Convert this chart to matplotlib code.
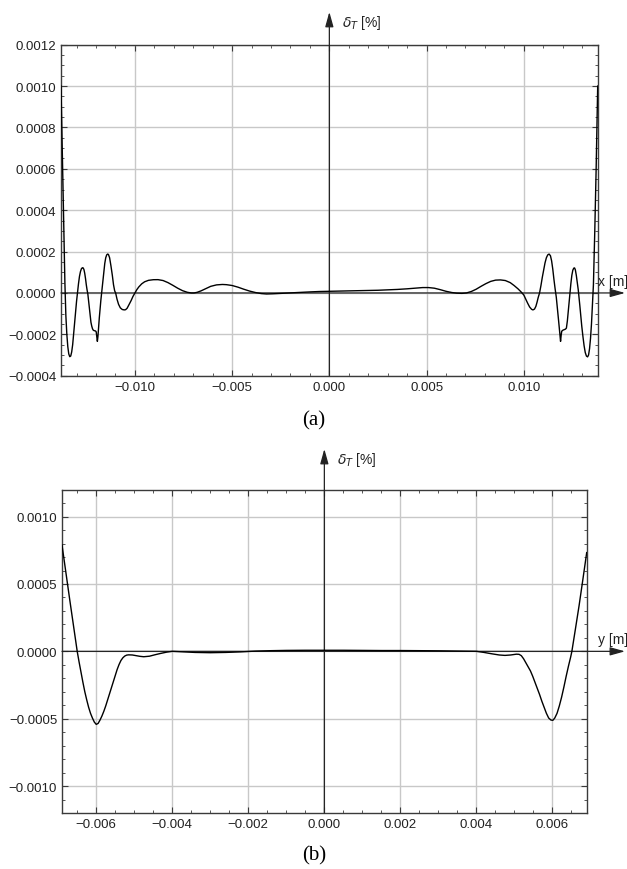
import matplotlib
matplotlib.use("Agg")
import matplotlib.pyplot as plt
import matplotlib.transforms as mtransforms
from matplotlib.ticker import MultipleLocator, FuncFormatter

plt.rcParams['font.family'] = ['Liberation Sans', 'DejaVu Sans']
plt.rcParams['mathtext.fontset'] = 'dejavusans'

# ---- data (a): x in mm, delta_T in 1e-4 % ----
xa_mm = [-13.80, -13.75, -13.70, -13.65, -13.60, -13.55, -13.50, -13.45, -13.40, -13.35,
         -13.30, -13.25, -13.20, -13.15, -13.10, -13.05, -13.00, -12.95, -12.90, -12.85,
         -12.80, -12.75, -12.70, -12.66, -12.62, -12.58, -12.54, -12.50, -12.46, -12.42,
         -12.38, -12.34, -12.30, -12.26, -12.22, -12.18, -12.14, -12.10, -12.06, -12.02,
         -11.99, -11.96, -11.93, -11.90, -11.87, -11.83, -11.79, -11.75, -11.70, -11.65,
         -11.60, -11.55, -11.50, -11.45, -11.40, -11.36, -11.30, -11.23, -11.16, -11.10,
         -11.04, -10.99, -10.92, -10.84, -10.75, -10.65, -10.55, -10.48, -10.40, -10.32,
         -10.25, -10.19, -10.10, -10.00, -9.90, -9.80, -9.65, -9.50, -9.30, -9.05,
         -8.81, -8.55, -8.30, -8.05, -7.80, -7.55, -7.30, -7.10, -6.96, -6.80,
         -6.60, -6.35, -6.10, -5.80, -5.50, -5.29, -5.00, -4.70, -4.40, -4.10,
         -3.80, -3.50, -3.23, -2.90, -2.50, -2.00, -1.50, -1.00, -0.50, 0.00,
         0.50, 1.00, 1.50, 2.00, 2.50, 3.00, 3.50, 4.00, 4.40, 4.80,
         5.10, 5.40, 5.70, 6.00, 6.30, 6.55, 6.82, 7.05, 7.30, 7.55,
         7.80, 8.05, 8.30, 8.55, 8.80, 9.05, 9.30, 9.50, 9.70, 9.85,
         10.00, 10.10, 10.20, 10.30, 10.40, 10.47, 10.55, 10.62, 10.68, 10.74,
         10.81, 10.88, 10.95, 11.02, 11.09, 11.16, 11.23, 11.30, 11.37, 11.43,
         11.49, 11.55, 11.61, 11.67, 11.73, 11.79, 11.85, 11.89, 11.92, 11.95,
         12.01, 12.08, 12.14, 12.19, 12.24, 12.29, 12.33, 12.37, 12.42, 12.47,
         12.52, 12.57, 12.61, 12.65, 12.70, 12.75, 12.80, 12.84, 12.88, 12.93,
         12.98, 13.04, 13.10, 13.16, 13.22, 13.28, 13.33, 13.38, 13.43, 13.48,
         13.53, 13.58, 13.65, 13.72, 13.80]
ya_e4 = [10.0, 7.6, 5.2, 2.8, 0.5, -1.1, -2.0, -2.6, -2.95, -3.08,
         -3.05, -2.85, -2.5, -2.0, -1.45, -0.9, -0.4, 0.05, 0.45, 0.8,
         1.03, 1.17, 1.22, 1.21, 1.13, 0.95, 0.7, 0.4, 0.15, -0.05,
         -0.4, -0.8, -1.15, -1.42, -1.6, -1.73, -1.80, -1.82, -1.83, -1.84,
         -1.88, -2.1, -2.34, -2.1, -1.7, -1.2, -0.75, -0.35, 0.1, 0.6,
         1.05, 1.42, 1.7, 1.84, 1.88, 1.86, 1.7, 1.3, 0.85, 0.4,
         0.1, 0.0, -0.3, -0.55, -0.72, -0.80, -0.82, -0.81, -0.74, -0.6,
         -0.47, -0.36, -0.17, 0.0, 0.16, 0.29, 0.44, 0.54, 0.61, 0.64,
         0.643, 0.6, 0.5, 0.37, 0.23, 0.11, 0.03, 0.0, 0.0, 0.03,
         0.1, 0.21, 0.32, 0.39, 0.41, 0.40, 0.36, 0.28, 0.18, 0.09,
         0.02, -0.03, -0.05, -0.04, -0.02, 0.01, 0.03, 0.05, 0.07, 0.08,
         0.09, 0.10, 0.11, 0.12, 0.13, 0.15, 0.17, 0.20, 0.23, 0.26,
         0.26, 0.23, 0.16, 0.08, 0.02, -0.01, -0.02, 0.0, 0.07, 0.18,
         0.32, 0.45, 0.56, 0.62, 0.63, 0.6, 0.5, 0.36, 0.2, 0.06,
         -0.1, -0.3, -0.5, -0.68, -0.79, -0.82, -0.78, -0.65, -0.45, -0.22,
         0.0, 0.35, 0.75, 1.1, 1.45, 1.7, 1.84, 1.88, 1.8, 1.55,
         1.15, 0.65, 0.2, -0.2, -0.75, -1.35, -1.95, -2.34, -2.05, -1.85,
         -1.80, -1.77, -1.75, -1.70, -1.35, -0.85, -0.4, 0.0, 0.45, 0.85,
         1.1, 1.2, 1.21, 1.12, 0.85, 0.5, 0.15, -0.2, -0.6, -1.1,
         -1.6, -2.1, -2.55, -2.88, -3.05, -3.09, -3.0, -2.7, -2.2, -1.5,
         -0.6, 0.4, 3.0, 6.0, 10.0]

# ---- data (b): y in mm, delta_T in 1e-4 % ----
xb_mm = [-6.90, -6.80, -6.70, -6.60, -6.50, -6.45, -6.40, -6.35, -6.30, -6.25,
         -6.20, -6.15, -6.10, -6.05, -6.00, -5.95, -5.90, -5.85, -5.80, -5.75,
         -5.70, -5.65, -5.60, -5.55, -5.50, -5.45, -5.40, -5.35, -5.30, -5.25,
         -5.20, -5.15, -5.05, -4.95, -4.85, -4.75, -4.60, -4.45, -4.30, -4.15,
         -4.00, -3.70, -3.40, -3.00, -2.60, -2.20, -1.80, -1.40, -1.00, -0.50,
         0.00, 0.50, 1.00, 1.50, 2.00, 2.50, 3.00, 3.50, 4.00, 4.20,
         4.40, 4.60, 4.75, 4.90, 5.05, 5.12, 5.18, 5.24, 5.30, 5.36,
         5.42, 5.48, 5.54, 5.60, 5.66, 5.72, 5.78, 5.84, 5.90, 5.96,
         6.01, 6.06, 6.12, 6.18, 6.24, 6.30, 6.36, 6.42, 6.48, 6.51,
         6.60, 6.70, 6.80, 6.90]
yb_e4 = [7.9, 5.9, 3.9, 1.95, 0.0, -0.8, -1.55, -2.3, -3.0, -3.6,
         -4.15, -4.6, -4.95, -5.25, -5.42, -5.35, -5.1, -4.8, -4.45, -4.05,
         -3.6, -3.15, -2.7, -2.25, -1.8, -1.35, -0.98, -0.68, -0.48, -0.35,
         -0.28, -0.26, -0.27, -0.32, -0.37, -0.40, -0.36, -0.25, -0.15, -0.06,
         0.0, -0.04, -0.08, -0.10, -0.08, -0.04, 0.02, 0.05, 0.07, 0.08,
         0.08, 0.08, 0.07, 0.06, 0.06, 0.05, 0.04, 0.02, 0.0, -0.08,
         -0.18, -0.27, -0.30, -0.27, -0.21, -0.22, -0.32, -0.55, -0.85, -1.15,
         -1.45, -1.85, -2.3, -2.75, -3.2, -3.7, -4.15, -4.6, -4.95, -5.1,
         -5.12, -4.95, -4.6, -4.05, -3.4, -2.65, -1.85, -1.1, -0.4, 0.0,
         1.6, 3.4, 5.35, 7.33]

xa = [v * 1e-3 for v in xa_mm]
ya = [v * 1e-4 for v in ya_e4]
xb = [v * 1e-3 for v in xb_mm]
yb = [v * 1e-4 for v in yb_e4]

xa_ticks = [-0.010, -0.005, 0.0, 0.005, 0.010]
ya_ticks = [-0.0004, -0.0002, 0.0, 0.0002, 0.0004, 0.0006, 0.0008, 0.0010, 0.0012]
xb_ticks = [-0.006, -0.004, -0.002, 0.0, 0.002, 0.004, 0.006]
yb_ticks = [-0.0010, -0.0005, 0.0, 0.0005, 0.0010]

W, H = 627, 870
fig = plt.figure(figsize=(W / 100, H / 100), dpi=100)

def px_axes(l, t, r, b):
    return fig.add_axes([l / W, 1 - b / H, (r - l) / W, (b - t) / H])

def fmt(dec):
    def f(v, pos):
        s = f"{abs(v):.{dec}f}"
        return ("\u2212" + s) if v < -1e-12 else s
    return FuncFormatter(f)

frame_c = '#3a3a3a'
grid_c = '#c8c8c8'
ink = '#222222'

def style(ax, xt, yt, xminor, yminor, xdec, ydec, xlim, ylim, xlabel, arrow_top, arrow_right,
          xlabel_dx):
    ax.set_xlim(*xlim)
    ax.set_ylim(*ylim)
    ax.set_xticks(xt)
    ax.set_yticks(yt)
    ax.xaxis.set_minor_locator(MultipleLocator(xminor))
    ax.yaxis.set_minor_locator(MultipleLocator(yminor))
    ax.xaxis.set_major_formatter(fmt(xdec))
    ax.yaxis.set_major_formatter(fmt(ydec))
    ax.tick_params(which='both', direction='in', top=True, right=True, colors=frame_c,
                   labelcolor=ink, labelsize=9.5)
    ax.tick_params(which='major', length=4, width=0.8)
    ax.tick_params(which='minor', length=2, width=0.6)
    for s in ax.spines.values():
        s.set_color(frame_c)
        s.set_linewidth(1.0)
    ax.grid(True, which='major', color=grid_c, lw=1.0)
    ax.set_axisbelow(True)
    tr_v = mtransforms.blended_transform_factory(ax.transData, ax.transAxes)
    tr_h = mtransforms.blended_transform_factory(ax.transAxes, ax.transData)
    astyle = '-|>,head_length=0.9,head_width=0.25'
    ax.annotate('', xy=(0, arrow_top), xytext=(0, 0), xycoords=tr_v, textcoords=tr_v,
                arrowprops=dict(arrowstyle=astyle, color=ink, lw=0.9,
                                mutation_scale=10, shrinkA=0, shrinkB=0),
                annotation_clip=False, zorder=3)
    ax.annotate('', xy=(arrow_right, 0), xytext=(0, 0), xycoords=tr_h, textcoords=tr_h,
                arrowprops=dict(arrowstyle=astyle, color=ink, lw=0.9,
                                mutation_scale=10, shrinkA=0, shrinkB=0),
                annotation_clip=False, zorder=3)
    ax.annotate(r'$\delta_T$ [%]', xy=(0, arrow_top), xycoords=tr_v,
                xytext=(9, -7), textcoords='offset points', ha='left', va='center',
                fontsize=10, color=ink, annotation_clip=False)
    ax.annotate(xlabel, xy=(1.0, 0.0), xycoords=tr_h,
                xytext=(xlabel_dx, 3.5), textcoords='offset points', ha='left', va='bottom',
                fontsize=10, color=ink, annotation_clip=False)

ax1 = px_axes(61, 45.7, 597.7, 376.7)
ax1.plot(xa, ya, color='black', lw=1.0, zorder=4)
style(ax1, xa_ticks, ya_ticks, 0.001, 0.00005, 3, 4, (-0.0138, 0.0138), (-0.0004, 0.0012),
      'x [m]', 1.099, 1.051, 0.5)

ax2 = px_axes(62, 490.7, 586.7, 814)
ax2.plot(xb, yb, color='black', lw=1.0, zorder=4)
style(ax2, xb_ticks, yb_ticks, 0.0005, 0.0001, 3, 4, (-0.0069, 0.0069), (-0.0012, 0.0012),
      'y [m]', 1.126, 1.073, 8.0)

fig.text(314 / W, 1 - 421 / H, '(a)', ha='center', va='center', fontsize=15,
         family=['Liberation Serif', 'DejaVu Serif'])
fig.text(314 / W, 1 - 856 / H, '(b)', ha='center', va='center', fontsize=15,
         family=['Liberation Serif', 'DejaVu Serif'])

fig.savefig('out.png', dpi=100)
